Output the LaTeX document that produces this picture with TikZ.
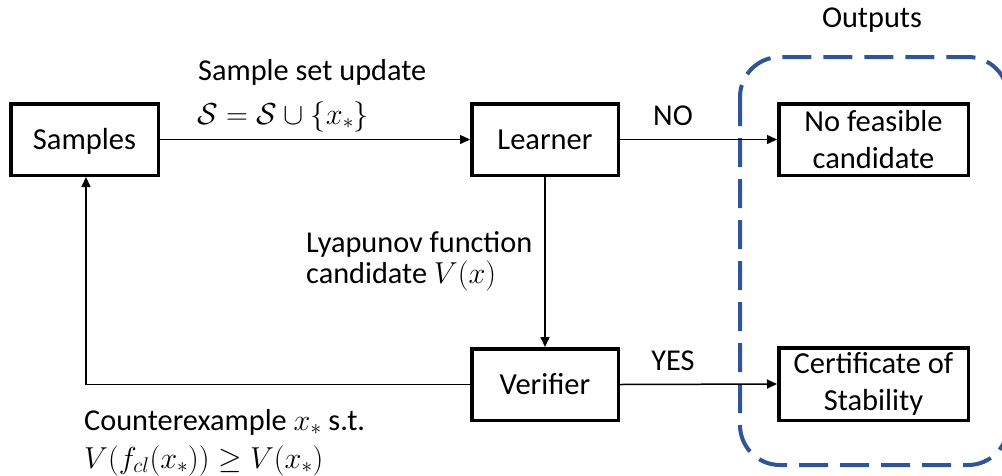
\RequirePackage{fix-cm}
\documentclass[tikz,border=0pt]{standalone}
\usepackage[no-math]{fontspec}
\setmainfont{Carlito}
\usetikzlibrary{arrows.meta,positioning}
\definecolor{outblue}{RGB}{47,85,151}
\tikzset{
  lbl/.style={font=\fontsize{30.3}{37}\selectfont, inner sep=0pt},
  block/.style={draw=black, line width=3.5pt, fill=white, inner sep=0pt,
    font=\fontsize{30.5}{36.5}\selectfont, align=center},
  flow/.style={draw=black, line width=1.5pt,
    -{Triangle[length=10pt,width=9pt]}},
  group/.style={draw=outblue, line width=4pt, rounded corners=40pt,
    dash pattern=on 29pt off 12pt}
}
\begin{document}
\begin{tikzpicture}[x=1pt,y=-1pt]
  \useasboundingbox (0,0) rectangle (1002,475);
  \clip (0,0) rectangle (1002,475);

  % output group frame
  \draw[group] (740,57) rectangle (1008,465);
  \node[lbl, anchor=base] (outlbl) at (872,27) {Outputs};

  % blocks
  \node[block, minimum width=147.5pt, minimum height=71.5pt,
        text height=24pt, text depth=5pt] (samples) at (84.5,139.5) {Samples};
  \node[block, minimum width=146.5pt, minimum height=71.5pt,
        text height=24pt, text depth=5pt] (learner) at (545,139.5) {Learner};
  \node[block, minimum width=146.5pt, minimum height=71.5pt,
        text height=24pt, text depth=5pt] (verifier) at (545,384.5) {Verifier};
  \node[block, minimum width=189.5pt, minimum height=71.5pt] (nofeas) at (873.5,139.5)
        {No feasible\\candidate};
  \node[block, minimum width=189.5pt, minimum height=72.5pt] (cert) at (873.5,384)
        {Certificate of\\Stability};

  % connectors
  \coordinate (corner) at (86,384.5);
  \draw[flow] (samples.east) -- (learner.west);
  \draw[flow] (learner.east) -- (nofeas.west);
  \draw[flow] (learner.south) -- (verifier.north);
  \draw[flow] (verifier.east) -- (cert.west);
  \draw[flow] (verifier.west) -- (corner) -- (corner |- samples.south);

  % labels
  \node[lbl, anchor=base west] (upd1) at (198,80) {Sample set update};
  \node[lbl, anchor=base west] (upd2) at (197,124) {$\mathcal{S}=\mathcal{S}\cup\{x_*\}$};
  \node[lbl, anchor=base] (nolbl) at (673,125) {NO};
  \node[lbl, anchor=base] (yeslbl) at (673,370) {YES};
  \node[lbl, anchor=base west] (lyap1) at (306,252) {Lyapunov function};
  \node[lbl, anchor=base west] (lyap2) at (306,283) {candidate $V(x)$};
  \node[lbl, anchor=base west] (cex1) at (84,430) {Counterexample $x_*$ s.t.};
  \node[lbl, anchor=base west] (cex2) at (84,468) {$V(f_{cl}(x_*))\geq V(x_*)$};
\end{tikzpicture}
\end{document}
